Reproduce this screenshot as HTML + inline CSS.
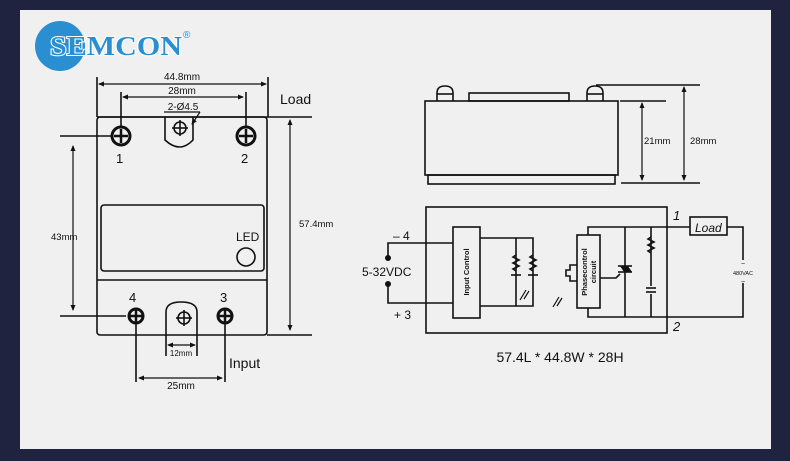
<!DOCTYPE html>
<html><head><meta charset="utf-8"><style>
html,body{margin:0;padding:0;background:#1f2340;}
svg{display:block}
text{font-family:"Liberation Sans",Arial,sans-serif;fill:#111}
</style></head><body>
<svg width="790" height="461" viewBox="0 0 790 461" xmlns="http://www.w3.org/2000/svg">
<defs>
<marker id="a" markerWidth="6" markerHeight="6" refX="5" refY="3" orient="auto-start-reverse" markerUnits="userSpaceOnUse"><path d="M0,0.5 L6,3 L0,5.5z" fill="#111"/></marker>
</defs>
<rect x="0" y="0" width="790" height="461" fill="#1f2340"/>
<rect x="20" y="10" width="751" height="439" fill="#f0f0f0"/>
<!-- logo -->
<circle cx="60" cy="46" r="25" fill="#2a8fd0"/>
<text x="50" y="55" textLength="132" lengthAdjust="spacingAndGlyphs" font-weight="bold" font-size="27" style="fill:#2a8fd0;font-family:'Liberation Serif',serif" stroke="#fff" stroke-width="2" paint-order="stroke">SEMCON</text>
<text x="183" y="38" font-size="10" style="fill:#2a8fd0">®</text>
<g stroke="#111" stroke-width="1.6" fill="none">
<rect x="97" y="117" width="170" height="218" rx="3"/>
<rect x="101" y="205" width="163" height="66" rx="3"/>
<line x1="97" y1="280" x2="267" y2="280"/>
<circle cx="246" cy="257" r="9"/>
<path d="M165,117 V140 Q180,154 193,140 V117"/>
<circle cx="180" cy="128" r="6"/><line x1="172" y1="128" x2="188" y2="128"/><line x1="180" y1="120" x2="180" y2="136"/>
<path d="M166,335 V312 Q166,302 181,302 Q197,302 197,312 V335"/>
<circle cx="184" cy="318" r="6"/><line x1="176" y1="318" x2="192" y2="318"/><line x1="184" y1="310" x2="184" y2="326"/>
<line x1="97" y1="77" x2="97" y2="117"/><line x1="268" y1="77" x2="268" y2="117"/>
<line x1="99" y1="84" x2="266" y2="84" stroke-width="1.2" marker-start="url(#a)" marker-end="url(#a)"/>
<line x1="121" y1="92" x2="121" y2="128"/><line x1="246" y1="92" x2="246" y2="128"/>
<line x1="123" y1="97" x2="243" y2="97" stroke-width="1.2" marker-start="url(#a)" marker-end="url(#a)"/>
<line x1="164" y1="112" x2="200" y2="112" stroke-width="1.2"/>
<line x1="200" y1="112" x2="192" y2="124" stroke-width="1.2" marker-end="url(#a)"/>
<line x1="97" y1="117" x2="312" y2="117"/>
<line x1="60" y1="136" x2="111" y2="136"/>
<line x1="290" y1="120" x2="290" y2="330" stroke-width="1.2" marker-start="url(#a)" marker-end="url(#a)"/>
<line x1="267" y1="335" x2="312" y2="335"/>
<line x1="73" y1="146" x2="73" y2="310" stroke-width="1.2" marker-start="url(#a)" marker-end="url(#a)"/>
<line x1="60" y1="316" x2="126" y2="316"/>
<line x1="136" y1="316" x2="136" y2="382"/><line x1="225" y1="316" x2="225" y2="382"/>
<line x1="139" y1="378" x2="222" y2="378" stroke-width="1.2" marker-start="url(#a)" marker-end="url(#a)"/>
<line x1="166" y1="335" x2="166" y2="356"/><line x1="197" y1="335" x2="197" y2="356"/>
<line x1="168" y1="345" x2="195" y2="345" stroke-width="1.2" marker-start="url(#a)" marker-end="url(#a)"/>
</g>
<g stroke="#111" fill="none">
<circle cx="121" cy="136" r="9" stroke-width="3"/><line x1="114" y1="136" x2="128" y2="136" stroke-width="2.5"/><line x1="121" y1="129" x2="121" y2="143" stroke-width="2.5"/>
<circle cx="246" cy="136" r="9" stroke-width="3"/><line x1="239" y1="136" x2="253" y2="136" stroke-width="2.5"/><line x1="246" y1="129" x2="246" y2="143" stroke-width="2.5"/>
<circle cx="136" cy="316" r="7" stroke-width="3"/><line x1="130" y1="316" x2="142" y2="316" stroke-width="2.5"/><line x1="136" y1="310" x2="136" y2="322" stroke-width="2.5"/>
<circle cx="225" cy="316" r="7" stroke-width="3"/><line x1="219" y1="316" x2="231" y2="316" stroke-width="2.5"/><line x1="225" y1="310" x2="225" y2="322" stroke-width="2.5"/>
</g>
<g font-size="10" text-anchor="middle">
<text x="182" y="80">44.8mm</text>
<text x="182" y="94">28mm</text>
<text x="183" y="110">2-Ø4.5</text>
<text x="51" y="240" text-anchor="start" font-size="9.5">43mm</text>
<text x="299" y="227" text-anchor="start" font-size="9.5">57.4mm</text>
<text x="181" y="356" font-size="8">12mm</text>
<text x="181" y="389">25mm</text>
</g>
<text x="280" y="104" font-size="14">Load</text>
<text x="229" y="368" font-size="14">Input</text>
<text x="236" y="241" font-size="12">LED</text>
<text x="116" y="163" font-size="13">1</text>
<text x="241" y="163" font-size="13">2</text>
<text x="129" y="302" font-size="13">4</text>
<text x="220" y="302" font-size="13">3</text>
<g stroke="#111" stroke-width="1.6" fill="none">
<rect x="425" y="101" width="193" height="74"/>
<rect x="428" y="175" width="187" height="9"/>
<rect x="469" y="93" width="100" height="8"/>
<path d="M437,101 V93 Q437,86 445,86 Q453,86 453,93 V101"/><line x1="437" y1="94" x2="453" y2="94"/>
<path d="M587,101 V93 Q587,86 595,86 Q603,86 603,93 V101"/><line x1="587" y1="94" x2="603" y2="94"/>
<line x1="596" y1="85" x2="700" y2="85"/>
<line x1="620" y1="101" x2="666" y2="101"/>
<line x1="621" y1="183" x2="700" y2="183"/>
<line x1="642" y1="103" x2="642" y2="180" stroke-width="1.2" marker-start="url(#a)" marker-end="url(#a)"/>
<line x1="684" y1="87" x2="684" y2="180" stroke-width="1.2" marker-start="url(#a)" marker-end="url(#a)"/>
</g>
<text x="644" y="144" font-size="9.5">21mm</text>
<text x="690" y="144" font-size="9.5">28mm</text>
<g stroke="#111" stroke-width="1.6" fill="none">
<rect x="426" y="207" width="241" height="126"/>
<rect x="453" y="227" width="27" height="91"/>
<polyline points="453,243 388,243 388,258"/>
<polyline points="453,303 388,303 388,284"/>
<polyline points="480,238 533,238 533,306 480,306"/>
<line x1="516" y1="238" x2="516" y2="306"/>
<path d="M516,255 l-3,2 6,3 -6,3 6,3 -6,3 3,2"/><line x1="511" y1="275" x2="521" y2="275"/>
<path d="M533,255 l-3,2 6,3 -6,3 6,3 -6,3 3,2"/><line x1="528" y1="275" x2="538" y2="275"/>
<path d="M520,300 l6,-10 M524,299 l5,-8" stroke-width="1.2"/>
<path d="M553,307 l6,-10 M557,306 l5,-8" stroke-width="1.2"/>
<path d="M577,265 h-7 v5 h-4 v6 h4 v5 h7"/>
<rect x="577" y="235" width="23" height="73"/>
<polyline points="588,235 588,227 690,227"/>
<rect x="690" y="217" width="37" height="18"/>
<polyline points="727,227 743,227 743,260"/>
<polyline points="743,283 743,317 588,317 588,308"/>
<line x1="625" y1="227" x2="625" y2="317"/>
<line x1="651" y1="227" x2="651" y2="286"/>
<line x1="651" y1="294" x2="651" y2="317"/>
<polyline points="600,278 616,278 620,274"/>
<line x1="618" y1="266" x2="632" y2="266"/><line x1="618" y1="272" x2="632" y2="272"/>
<path d="M651,237 l-3,2 6,3 -6,3 6,3 -6,3 3,2"/>
<line x1="646" y1="288" x2="656" y2="288"/><line x1="646" y1="292" x2="656" y2="292"/>
</g>
<path d="M620,266 l4,6 4,-6z M624,272 l4,-6 4,6z" fill="#111"/>
<circle cx="388" cy="258" r="3" fill="#111"/><circle cx="388" cy="284" r="3" fill="#111"/>
<text x="362" y="276" font-size="12">5-32VDC</text>
<text x="393" y="240" font-size="12">– 4</text>
<text x="394" y="319" font-size="12">+ 3</text>
<text x="673" y="220" font-size="13" font-style="italic">1</text>
<text x="673" y="331" font-size="13" font-style="italic">2</text>
<text x="695" y="232" font-size="12" font-style="italic">Load</text>
<text x="743" y="266" font-size="7" text-anchor="middle">~</text>
<text x="743" y="275" font-size="5.5" text-anchor="middle">480VAC</text>
<text x="743" y="284" font-size="7" text-anchor="middle">~</text>
<text transform="translate(469,272) rotate(-90)" font-size="7.5" font-weight="bold" text-anchor="middle">Input Control</text>
<text transform="translate(587,272) rotate(-90)" font-size="7.5" font-weight="bold" text-anchor="middle">Phasecontrol</text>
<text transform="translate(596,272) rotate(-90)" font-size="7.5" font-weight="bold" text-anchor="middle">circuit</text>
<text x="560" y="362" font-size="14" text-anchor="middle">57.4L * 44.8W * 28H</text>
</svg>
</body></html>
